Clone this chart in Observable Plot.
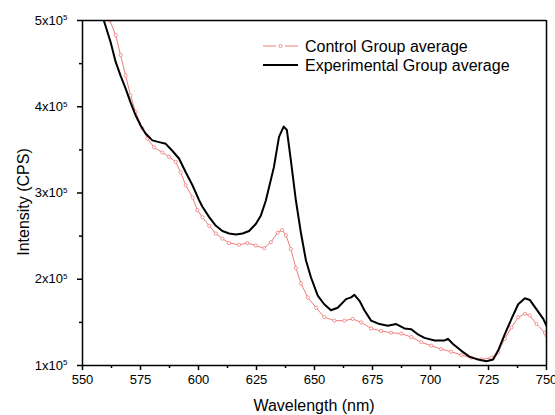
<!DOCTYPE html>
<html><head><meta charset="utf-8">
<script src="https://cdn.jsdelivr.net/npm/d3@7"></script>
<script src="https://cdn.jsdelivr.net/npm/@observablehq/plot@0.6"></script>
<style>body{margin:0;background:#fff}</style>
</head><body><div id="chart"></div>
<script>
// Wavelength (nm) and intensity (units of 1e5 CPS)
const expX = [559.2,562.1,564.3,566.4,568.6,570.7,572.9,575.1,577.2,580.1,583.0,585.9,588.7,591.6,594.5,597.4,600.2,601.7,604.6,607.5,610.3,613.2,616.1,619.0,621.8,624.7,626.9,629.0,630.8,632.5,634.7,636.7,638.1,639.8,642.0,644.2,646.3,648.5,651.4,654.2,657.1,660.0,663.6,665.8,667.2,669.4,671.5,674.4,678.0,681.6,685.2,688.8,691.7,694.6,697.4,701.8,706.1,707.5,709.7,713.3,716.9,720.5,724.1,727.0,729.1,732.0,734.9,737.8,740.7,742.8,745.7,748.6,750.0];
const expY = [5.00,4.75,4.52,4.36,4.21,4.05,3.90,3.78,3.69,3.61,3.59,3.57,3.49,3.40,3.24,3.09,2.92,2.84,2.72,2.62,2.56,2.53,2.52,2.53,2.56,2.64,2.74,2.91,3.11,3.30,3.65,3.77,3.73,3.38,2.91,2.53,2.22,2.02,1.81,1.71,1.64,1.67,1.77,1.79,1.82,1.75,1.64,1.52,1.48,1.46,1.48,1.43,1.42,1.36,1.32,1.29,1.29,1.31,1.25,1.17,1.10,1.07,1.05,1.07,1.17,1.36,1.54,1.71,1.78,1.76,1.65,1.54,1.46];
const ctrlX = [561.8,564.3,566.4,568.6,570.7,572.9,575.8,578.0,580.8,584.4,587.3,590.2,592.3,594.5,597.4,599.5,601.7,604.6,607.5,610.3,613.2,617.5,621.1,624.7,628.3,631.2,634.1,636.0,637.7,639.8,642.0,644.2,647.1,650.7,654.2,658.6,662.9,666.5,670.1,674.4,678.7,683.0,687.4,691.7,696.0,700.3,704.6,708.9,713.3,717.6,721.9,726.2,729.1,732.0,734.9,737.8,740.7,742.8,745.7,749.3,750.0];
const ctrlY = [5.00,4.83,4.60,4.36,4.13,3.94,3.75,3.63,3.53,3.47,3.42,3.36,3.24,3.09,2.95,2.80,2.72,2.62,2.53,2.47,2.42,2.40,2.42,2.39,2.36,2.43,2.54,2.57,2.51,2.35,2.13,1.95,1.79,1.67,1.56,1.52,1.52,1.54,1.50,1.43,1.40,1.38,1.37,1.33,1.27,1.23,1.19,1.16,1.12,1.09,1.07,1.09,1.15,1.31,1.44,1.56,1.60,1.58,1.48,1.38,1.35];
const xTicks = [550,575,600,625,650,675,700,725,750];
const xMinor = [562.5,587.5,612.5,637.5,662.5,687.5,712.5,737.5];
const yTicks = [1,2,3,4,5];
const yMinor = [1.5,2.5,3.5,4.5];
const seriesNames = ["Control Group average","Experimental Group average"];
const xTitle = "Wavelength (nm)";
const yTitle = "Intensity (CPS)";

const expData = expX.map((x,i)=>({x, y: expY[i]}));
const ctrlData = ctrlX.map((x,i)=>({x, y: ctrlY[i]}));
const red = "#f07c7c";
const font = "'Liberation Sans', Arial, sans-serif";

const W = 555, H = 415, ML = 82, MR = 9, MT = 20, MB = 50;
const chart = Plot.plot({
  width: W, height: H,
  marginLeft: ML, marginRight: MR, marginTop: MT, marginBottom: MB,
  style: {fontFamily: font, background: "#fff", color: "#000"},
  x: {domain: [550,750]},
  y: {domain: [1,5]},
  marks: [
    Plot.line(ctrlData, {x:"x", y:"y", stroke: red, strokeWidth: 1, clip: true}),
    Plot.dot(ctrlData, {x:"x", y:"y", r: 1.6, stroke: red, fill: "#fff", strokeWidth: 0.8, clip: true}),
    Plot.line(expData, {x:"x", y:"y", stroke: "#000", strokeWidth: 2, clip: true}),
    Plot.ruleX([550,750], {stroke: "#000", strokeWidth: 1.5}),
    Plot.ruleY([1,5], {stroke: "#000", strokeWidth: 1.5}),
    Plot.axisX({ticks: xTicks, tickSize: 5, tickPadding: 4, fontSize: 13, label: null, strokeWidth: 1.5}),
    Plot.axisX({ticks: xMinor, tickSize: 3, tickFormat: () => "", label: null, strokeWidth: 1.5}),
    Plot.axisY({ticks: yTicks, tickSize: 5, tickPadding: 4, fontSize: 13, label: null, strokeWidth: 1.5, tickFormat: d => d + "x10"}),
    Plot.axisY({ticks: yMinor, tickSize: 3, tickFormat: () => "", label: null, strokeWidth: 1.5})
  ]
});
document.getElementById("chart").appendChild(chart);
const svg = d3.select(chart);
// superscript exponent on y tick labels
svg.selectAll('g[aria-label="y-axis tick label"] text').each(function(){
  const t = d3.select(this);
  if (!t.text()) return;
  t.attr("dx", "-6");
  t.append("tspan").attr("dy", "-0.55em").attr("font-size", "8").text("5");
});
// axis titles
svg.append("text").attr("x", (ML + W - MR)/2).attr("y", 411).attr("text-anchor","middle")
  .attr("font-family", font).attr("font-size", 16).text(xTitle);
svg.append("text").attr("transform", `translate(29,202) rotate(-90)`).attr("text-anchor","middle")
  .attr("font-family", font).attr("font-size", 16).text(yTitle);
// legend
const lg = svg.append("g").attr("font-family", font).attr("font-size", 16).attr("text-anchor", "start");
lg.append("line").attr("x1",263).attr("x2",276).attr("y1",46).attr("y2",46).attr("stroke",red);
lg.append("line").attr("x1",285).attr("x2",298).attr("y1",46).attr("y2",46).attr("stroke",red);
lg.append("circle").attr("cx",280.5).attr("cy",46).attr("r",1.6).attr("stroke",red).attr("fill","#fff").attr("stroke-width",0.8);
lg.append("text").attr("x",305).attr("y",51.5).text(seriesNames[0]);
lg.append("line").attr("x1",263).attr("x2",298).attr("y1",65).attr("y2",65).attr("stroke","#000").attr("stroke-width",2);
lg.append("text").attr("x",305).attr("y",70.5).text(seriesNames[1]);
</script>
</body></html>
